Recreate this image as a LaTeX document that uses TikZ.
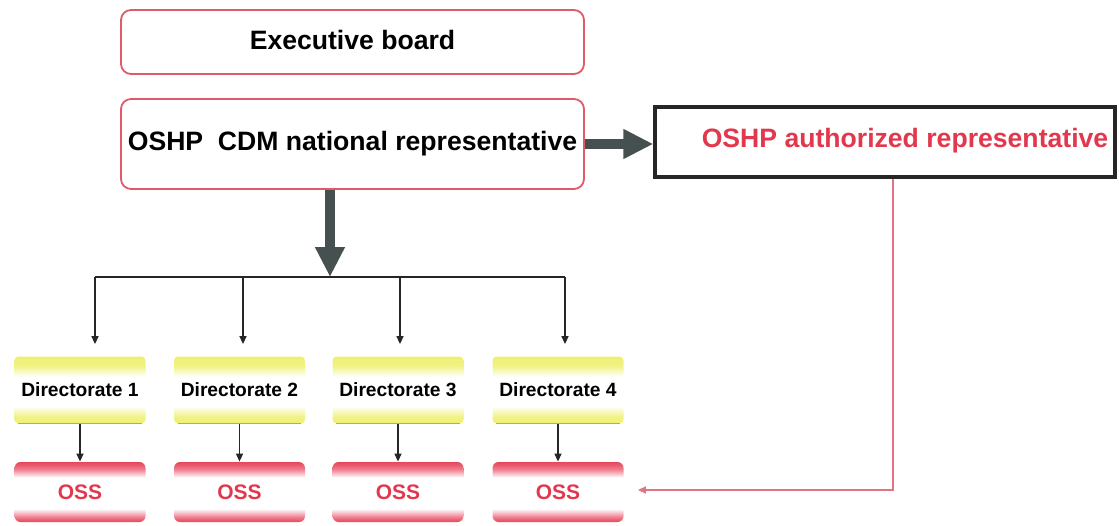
\documentclass[tikz,border=0pt]{standalone}
\usepackage{fontspec}
\setmainfont{Liberation Sans}
\usetikzlibrary{arrows.meta}

\definecolor{boxred}{HTML}{E05A6A}
\definecolor{txtred}{HTML}{E2384E}
\definecolor{arrgray}{HTML}{465050}
\definecolor{diryel}{HTML}{EEF070}
\definecolor{ossred}{HTML}{E8445C}
\definecolor{linkred}{HTML}{E07483}

% yellow bands at top and bottom, white middle
\pgfdeclareverticalshading{dirshade}{100bp}{color(0bp)=(diryel); color(25bp)=(diryel); color(30bp)=(diryel!85!white); color(38bp)=(white); color(60bp)=(white); color(68bp)=(diryel!85!white); color(75bp)=(diryel); color(100bp)=(diryel)}
% red bands at top and bottom, white middle
\pgfdeclareverticalshading{ossshade}{100bp}{color(0bp)=(ossred); color(25bp)=(ossred); color(29bp)=(ossred!70!white); color(36bp)=(white); color(62bp)=(white); color(69bp)=(ossred!70!white); color(75bp)=(ossred); color(100bp)=(ossred)}

\tikzset{
  headbox/.style={draw=boxred, line width=0.9pt, rounded corners=5pt, fill=white,
    minimum width=231.5pt, font=\fontsize{13.3}{16}\selectfont\bfseries, inner sep=0pt},
  authbox/.style={draw=black!85, line width=1.7pt, fill=white, minimum width=230pt,
    minimum height=35pt, inner sep=0pt},
  authtext/.style={text=txtred, font=\fontsize{13.3}{16}\selectfont\bfseries, inner sep=0pt},
  dirbox/.style={shading=dirshade, rounded corners=2pt, minimum width=65.5pt,
    minimum height=33.5pt, inner sep=0pt, font=\fontsize{9.6}{11}\selectfont\bfseries},
  ossbox/.style={shading=ossshade, rounded corners=3pt, minimum width=65.5pt,
    minimum height=30pt, inner sep=0pt, text=txtred, font=\fontsize{10.5}{12}\selectfont\bfseries},
  bigarrow/.style={draw=arrgray, line width=5pt, -{Triangle[length=15pt, width=14pt]}},
  thinarrow/.style={draw=black!85, line width=0.7pt, -{Triangle[length=4pt, width=3.5pt]}},
  treeline/.style={draw=black!85, line width=0.7pt},
  linkarrow/.style={draw=linkred, line width=0.7pt, -{Triangle[length=4pt, width=3.5pt]}},
  edgeline/.style={draw=black!35, line width=0.5pt}
}

\begin{document}
\begin{tikzpicture}[x=0.5pt, y=-0.5pt]
\useasboundingbox (0,0) rectangle (1119,525);

% top of the hierarchy
\node[headbox, minimum height=32pt] (board) at (352.5,42) {\raisebox{2.5pt}{Executive board}};
\node[headbox, minimum height=45pt] (cdm) at (352.5,144) {\raisebox{-1.5pt}{OSHP\ \ CDM national representative}};

% authorized representative
\node[authbox] (auth) at (885,142) {};
\node[authtext] (authlabel) at (905,141) {OSHP authorized representative};

% directorates and their OSS units
\foreach \i/\x in {1/80, 2/239.5, 3/398, 4/558} {
  \node[dirbox] (dir\i) at (\x,390) {\raisebox{-1pt}{Directorate \i}};
  \draw[edgeline] ([xshift=2pt]dir\i.south west) -- ([xshift=-2pt]dir\i.south east);
  \node[ossbox] (oss\i) at (\x,492) {OSS};
  \draw[thinarrow] (dir\i.south) -- (oss\i.north);
}

% distribution bar
\coordinate (hub) at (330,277);
\coordinate (b1) at (95,277);
\coordinate (b2) at (243,277);
\coordinate (b3) at (400,277);
\coordinate (b4) at (565,277);

\draw[bigarrow] (cdm.south -| hub) -- (hub);
\draw[bigarrow] (cdm.east) -- (cdm.east -| auth.west);

\draw[treeline] (b1) -- (b4);
\foreach \i in {1,2,3,4} {
  \draw[thinarrow, shorten >=6pt] (b\i) -- (b\i |- dir\i.north);
}

% link from the authorized representative to OSS 4
\coordinate (turn) at (893,490);
\draw[linkarrow, shorten >=7pt] (auth.south -| turn) -- (turn) -- (turn -| oss4.east);
\end{tikzpicture}
\end{document}
